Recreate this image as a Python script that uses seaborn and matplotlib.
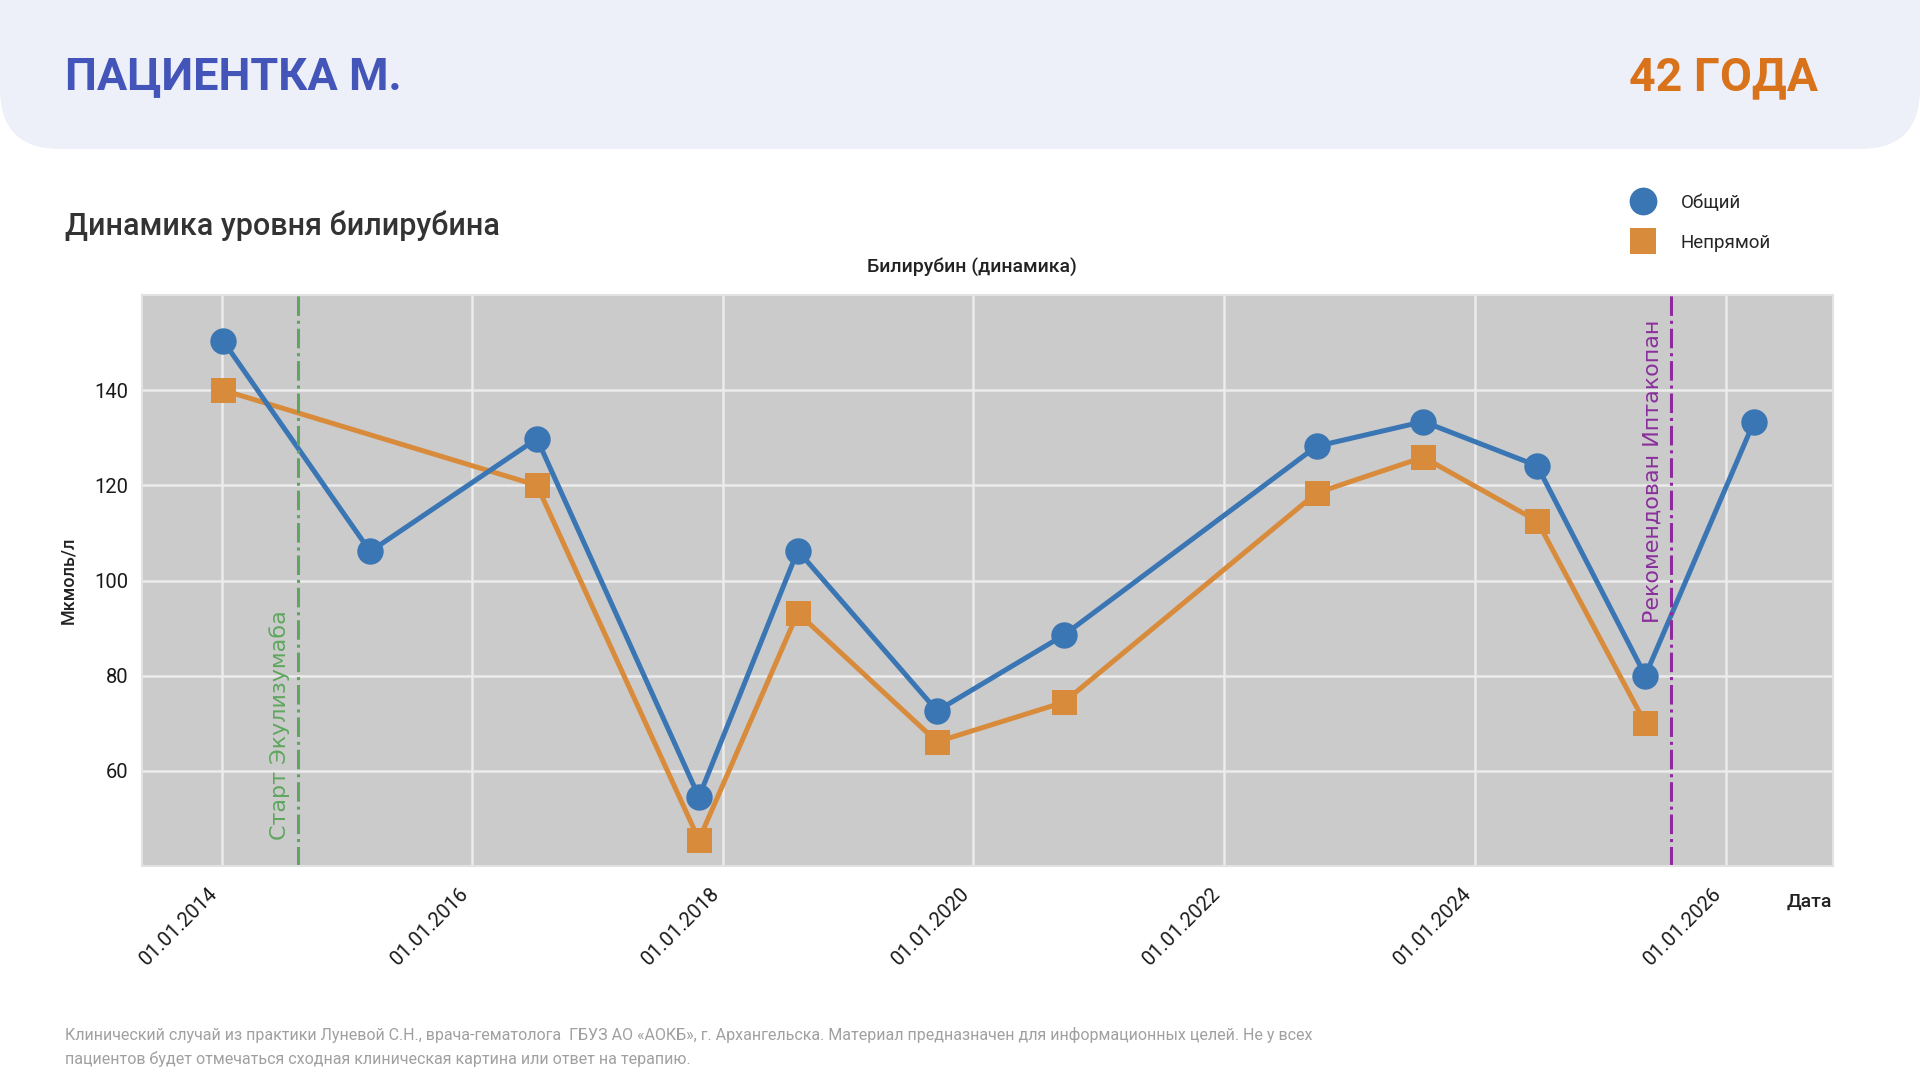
import pandas as pd
import numpy as np
import matplotlib.pyplot as plt
import matplotlib.dates as mdates
from matplotlib.patches import FancyBboxPatch
from matplotlib.lines import Line2D
import seaborn as sns

# Data
dates = ['2014-01-05', '2015-03-10', '2016-07-08', '2017-10-23', '2018-08-07', '2019-09-17',
         '2020-09-20', '2022-09-27', '2023-08-04', '2024-07-01', '2025-05-12', '2026-03-25']
total = [150.4, 106.1, 129.8, 54.5, 106.3, 72.6, 88.5, 128.2, 133.4, 124.1, 80.0, 133.4]
indirect = [140.0, np.nan, 120.0, 45.5, 93.2, 66.1, 74.4, 118.4, 125.9, 112.5, 70.0, np.nan]
series_names = ['Общий', 'Непрямой']
event_dates = ['2014-08-13', '2025-07-27']
event_labels = ['Старт Экулизумаба', 'Рекомендован Иптакопан']
y_ticks = [60, 80, 100, 120, 140]

df = pd.DataFrame({'date': pd.to_datetime(dates), 'total': total, 'indirect': indirect})

sns.set_theme(style='darkgrid', rc={'axes.facecolor': '#cbcbcb', 'grid.color': '#ececec',
                                     'grid.linewidth': 1.8, 'axes.edgecolor': '#e2e2e2'})
plt.rcParams['font.family'] = ['Roboto', 'DejaVu Sans']

blue = '#3a75b4'
orange = '#d98b3c'

fig = plt.figure(figsize=(19.2, 10.8), dpi=100)

# background layer in pixel units (header card, titles, footer)
bg = fig.add_axes([0, 0, 1, 1], zorder=0)
bg.set_xlim(0, 1920)
bg.set_ylim(1080, 0)
bg.axis('off')
bg.add_patch(FancyBboxPatch((0, -200), 1920, 349, boxstyle='round,pad=0,rounding_size=60',
                            facecolor='#eef0f9', edgecolor='none'))
bg.text(65, 77, 'ПАЦИЕНТКА М.', fontsize=32.5, fontweight='bold', color='#4355b9', va='center')
bg.text(1818, 77, '42 ГОДА', fontsize=33.5, fontweight='bold', color='#d9731b', va='center', ha='right')
bg.text(65, 226, 'Динамика уровня билирубина', fontsize=22, fontweight='medium', color='#333333', va='center')
bg.text(65, 1035, 'Клинический случай из практики Луневой С.Н., врача-гематолога  ГБУЗ АО «АОКБ», г. Архангельска. '
        'Материал предназначен для информационных целей. Не у всех', fontsize=11.5, color='#a0a0a0', va='center')
bg.text(65, 1059, 'пациентов будет отмечаться сходная клиническая картина или ответ на терапию.',
        fontsize=11.5, color='#a0a0a0', va='center')

ax = fig.add_axes([142 / 1920, 1 - 866 / 1080, 1691 / 1920, 571 / 1080], zorder=1)

d_total = df[['date', 'total']].dropna()
d_ind = df[['date', 'indirect']].dropna()
sns.lineplot(data=d_ind, x='date', y='indirect', ax=ax, color=orange, linewidth=3.6,
             marker='s', markersize=18, markeredgewidth=0)
sns.lineplot(data=d_total, x='date', y='total', ax=ax, color=blue, linewidth=3.6,
             marker='o', markersize=19, markeredgewidth=0)

ev_colors = ['#5ea65e', '#8d2a9c']
ev_text_colors = ['#5fa65f', '#8a2f9c']
ev_y = [45.5, 154.8]
ev_va = ['bottom', 'top']
for d, lab, c, tc, yy, va in zip(event_dates, event_labels, ev_colors, ev_text_colors, ev_y, ev_va):
    dt = pd.Timestamp(d)
    ax.axvline(dt, color=c, linestyle='-.', linewidth=2.2)
    ax.annotate(lab, xy=(dt, yy), xytext=(-6, 0), textcoords='offset points', rotation=90,
                ha='right', va=va, color=tc, fontsize=16, family=['DejaVu Sans'])

ax.set_xlim(pd.Timestamp('2013-05-14'), pd.Timestamp('2026-11-10'))
ax.set_ylim(40, 160)
ax.set_yticks(y_ticks)
ax.xaxis.set_major_locator(mdates.YearLocator(2))
ax.xaxis.set_major_formatter(mdates.DateFormatter('%d.%m.%Y'))
ax.tick_params(axis='y', labelsize=14.5, pad=10, colors='#1a1a1a', length=0)
ax.tick_params(axis='x', labelsize=14.5, pad=13, colors='#1a1a1a', length=0)
plt.setp(ax.get_xticklabels(), rotation=45, ha='right')
for s in ax.spines.values():
    s.set_linewidth(1.5)

ax.set_title('Билирубин (динамика)', fontsize=14, fontweight='medium', color='#222222', pad=16, x=0.491)
ax.set_ylabel('Мкмоль/л', fontsize=13, fontweight='medium', color='#222222')
ax.yaxis.set_label_coords(-0.038, 0.5)
ax.set_xlabel('Дата', fontsize=14, fontweight='medium', color='#222222')
ax.xaxis.set_label_coords(0.986, -0.063)
ax.xaxis.label.set_va('center')

handles = [Line2D([], [], linestyle='none', marker='o', markersize=20, color=blue, markeredgewidth=0),
           Line2D([], [], linestyle='none', marker='s', markersize=19, color=orange, markeredgewidth=0)]
fig.legend(handles, series_names, loc='upper left', bbox_to_anchor=(1629 / 1920, 1 - 194 / 1080),
           frameon=False, fontsize=13.5, borderpad=0, borderaxespad=0, handlelength=1.5,
           handletextpad=1.25, labelspacing=1.15)

fig.savefig('out.png', dpi=100)
